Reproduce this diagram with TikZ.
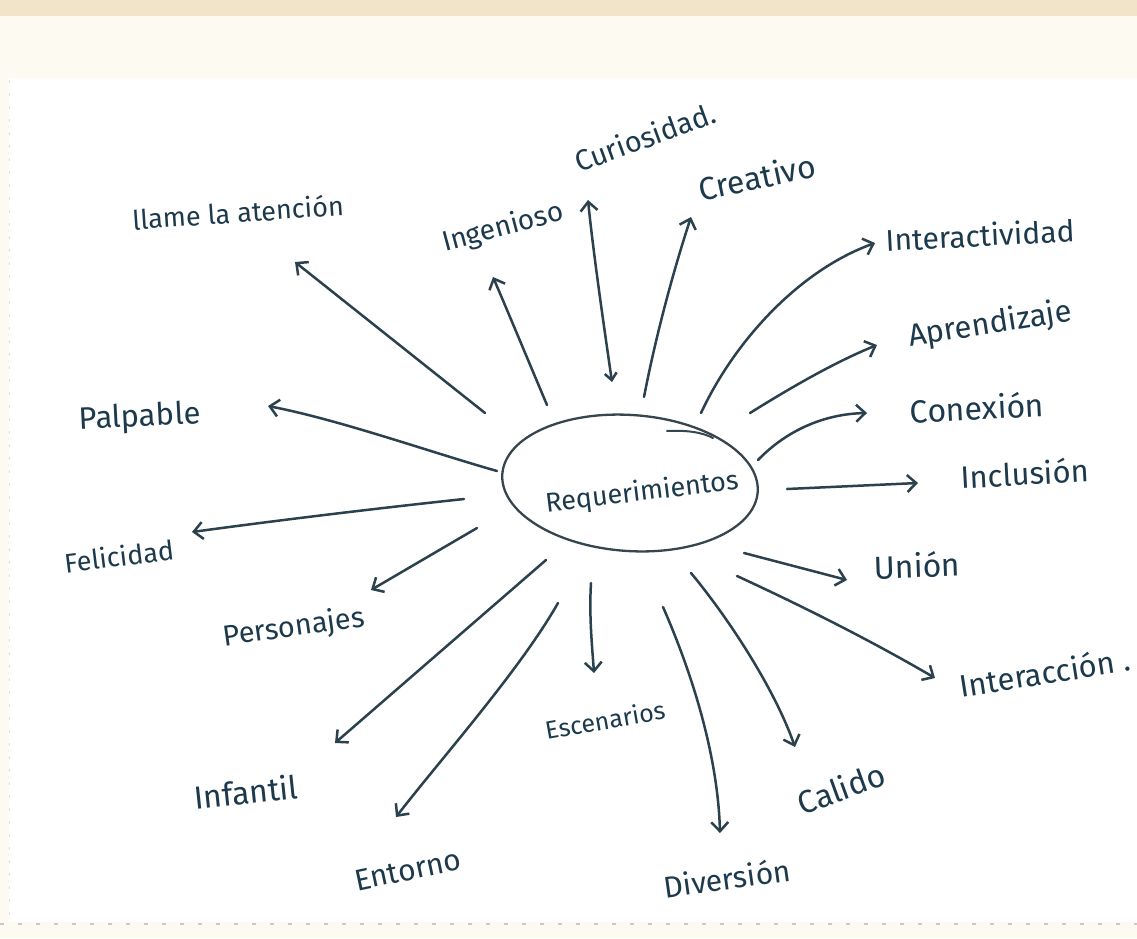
\documentclass[tikz,border=0pt]{standalone}
\usepackage{fontspec}
\setmainfont{Fira Sans}
\usetikzlibrary{arrows.meta,shapes.geometric}
\definecolor{ink}{HTML}{1C3A4C}
\definecolor{pen}{HTML}{2B414D}
\definecolor{rim}{HTML}{37464E}
\definecolor{cream}{HTML}{FDFAF2}
\definecolor{beige}{HTML}{F2E4C8}
\definecolor{dots}{HTML}{C9C9C6}
\begin{document}
\begin{tikzpicture}[x=1pt,y=-1pt,
  lbl/.style={text=ink, inner sep=1pt, font=\fontsize{#1}{#1}\selectfont},
  lbl/.default=30,
  tipA/.style={-{Straight Barb[length=9pt,width=17pt,line width=2.5pt]}},
  arr/.style={draw=pen, line width=2.5pt, line cap=round, tipA},
  darr/.style={draw=pen, line width=2.5pt, line cap=round,
    {Straight Barb[length=7pt,width=12pt,line width=2.5pt]}-{Straight Barb[length=9pt,width=17pt,line width=2.5pt]}},
]
% background / paper
\useasboundingbox (0,0) rectangle (1137,938);
\fill[cream] (0,0) rectangle (1137,938);
\fill[beige] (0,0) rectangle (1137,16);
\fill[white] (9,78) rectangle (1137,922);
\draw[dots, line width=2pt, dash pattern=on 4pt off 14pt] (0,924) -- (1137,924);
\draw[dots!60, line width=1pt, dash pattern=on 3pt off 10pt] (9,80) -- (9,920);

% central node
\node[ellipse, draw=rim, line width=2.3pt, minimum width=256pt, minimum height=136pt, inner sep=0pt, rotate=-4] (req) at (630,483) {};
\node[lbl=27, rotate=7] (reqt) at (642,493) {Requerimientos};
\coordinate (flick-a) at (667,431);
\coordinate (flick-b) at (713,438);
\draw[rim, line width=2pt, line cap=round] (flick-a) .. controls (685,430) and (702,432) .. (flick-b);

% labels
\node[lbl=27, rotate=4]  (llame) at (238,212) {llame la atención};
\node[lbl=28, rotate=15] (ingen) at (503,228) {Ingenioso};
\node[lbl=29, rotate=20] (curio) at (645,137) {Curiosidad.};
\node[lbl=32, rotate=12] (creat) at (757,177) {Creativo};
\node[lbl=30, rotate=3]  (inter) at (980,235) {Interactividad};
\node[lbl=31, rotate=9]  (apren) at (990,325) {Aprendizaje};
\node[lbl=32, rotate=3]  (conex) at (977,407) {Conexión};
\node[lbl=31, rotate=3]  (inclu) at (1025,473) {Inclusión};
\node[lbl=32, rotate=2]  (union) at (917,565) {Unión};
\node[lbl=31, rotate=9]  (inacc) at (1045,672) {Interacción .};
\node[lbl=32, rotate=20] (calid) at (841,788) {Calido};
\node[lbl=30, rotate=8]  (diver) at (727,878) {Diversión};
\node[lbl=25, rotate=10] (escen) at (605,720) {Escenarios};
\node[lbl=30, rotate=12] (entor) at (408,870) {Entorno};
\node[lbl=32, rotate=6]  (infan) at (246,792) {Infantil};
\node[lbl=29, rotate=8]  (perso) at (294,628) {Personajes};
\node[lbl=27, rotate=7]  (felic) at (119,556) {Felicidad};
\node[lbl=31, rotate=3]  (palpa) at (140,418) {Palpable};

% free ends of the hand-drawn arrows (they touch neither the ellipse nor the words)
\coordinate (llame-s) at (485,413); \coordinate (llame-e) at (295,262);
\coordinate (ingen-s) at (547,405); \coordinate (ingen-e) at (493,277);
\coordinate (curio-s) at (612,382); \coordinate (curio-e) at (588,200);
\coordinate (creat-s) at (644,397); \coordinate (creat-e) at (691,217);
\coordinate (inter-s) at (701,413); \coordinate (inter-e) at (875,243);
\coordinate (apren-s) at (750,413); \coordinate (apren-e) at (877,345);
\coordinate (conex-s) at (758,460); \coordinate (conex-e) at (867,413);
\coordinate (inclu-s) at (787,489); \coordinate (inclu-e) at (918,483);
\coordinate (union-s) at (744,553); \coordinate (union-e) at (847,580);
\coordinate (inacc-s) at (737,576); \coordinate (inacc-e) at (935,678);
\coordinate (calid-s) at (691,573); \coordinate (calid-e) at (795,747);
\coordinate (diver-s) at (663,607); \coordinate (diver-e) at (720,833);
\coordinate (escen-s) at (591,583); \coordinate (escen-e) at (594,673);
\coordinate (entor-s) at (558,603); \coordinate (entor-e) at (396,817);
\coordinate (infan-s) at (546,560); \coordinate (infan-e) at (335,743);
\coordinate (perso-s) at (477,528); \coordinate (perso-e) at (371,590);
\coordinate (felic-s) at (464,499); \coordinate (felic-e) at (192,532);
\coordinate (palpa-s) at (497,471); \coordinate (palpa-e) at (268,406);

% arrows
\draw[arr] (llame-s) -- (llame-e);
\draw[arr] (ingen-s) .. controls (528,360) and (508,312) .. (ingen-e);
\draw[darr] (curio-s) .. controls (603,320) and (593,250) .. (curio-e);
\draw[arr] (creat-s) .. controls (655,340) and (672,275) .. (creat-e);
\draw[arr] (inter-s) .. controls (735,340) and (800,270) .. (inter-e);
\draw[arr] (apren-s) .. controls (790,388) and (835,362) .. (apren-e);
\draw[arr] (conex-s) .. controls (785,432) and (822,414) .. (conex-e);
\draw[arr] (inclu-s) -- (inclu-e);
\draw[arr] (union-s) -- (union-e);
\draw[arr] (inacc-s) .. controls (800,605) and (870,640) .. (inacc-e);
\draw[arr] (calid-s) .. controls (730,620) and (775,690) .. (calid-e);
\draw[arr] (diver-s) .. controls (695,680) and (718,760) .. (diver-e);
\draw[arr] (escen-s) .. controls (589,615) and (592,645) .. (escen-e);
\draw[arr] (entor-s) .. controls (520,670) and (440,760) .. (entor-e);
\draw[arr] (infan-s) -- (infan-e);
\draw[arr] (perso-s) -- (perso-e);
\draw[arr] (felic-s) .. controls (380,508) and (280,520) .. (felic-e);
\draw[arr] (palpa-s) .. controls (430,452) and (340,420) .. (palpa-e);
\end{tikzpicture}
\end{document}
